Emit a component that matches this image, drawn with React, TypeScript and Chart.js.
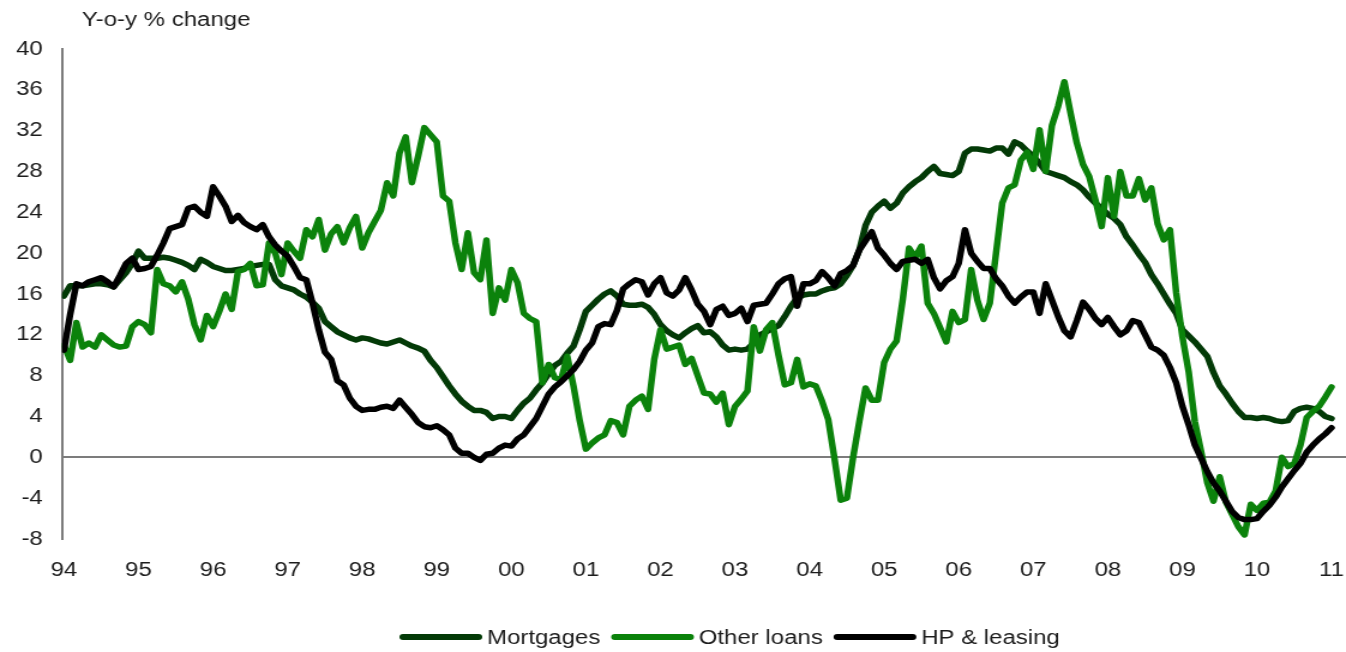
import { useEffect, useRef } from 'react';
import { Chart, registerables } from 'chart.js';

Chart.register(...registerables);

// ---- data (monthly, Jan 1994 .. Jan 2011) ----
const yearLabels = ['94', '95', '96', '97', '98', '99', '00', '01', '02', '03', '04', '05', '06', '07', '08', '09', '10', '11'];
const yTickMin = -8;
const yTickMax = 40;
const yTickStep = 4;

const mortgages = [
  15.8, 16.8, 16.8, 16.8, 16.9, 17.0, 17.0, 16.9, 16.7, 17.4,
  18.1, 19.0, 20.2, 19.5, 19.5, 19.5, 19.6, 19.5, 19.3, 19.1,
  18.8, 18.4, 19.4, 19.1, 18.7, 18.5, 18.3, 18.3, 18.4, 18.5,
  18.7, 18.8, 18.9, 18.9, 17.4, 16.8, 16.6, 16.4, 16.0, 15.7,
  15.2, 14.6, 13.3, 12.8, 12.3, 12.0, 11.7, 11.5, 11.7, 11.6,
  11.4, 11.2, 11.1, 11.3, 11.5, 11.2, 10.9, 10.7, 10.4, 9.5,
  8.8, 7.9, 7.0, 6.2, 5.5, 5.0, 4.6, 4.6, 4.4, 3.8,
  4.0, 4.0, 3.8, 4.6, 5.3, 5.8, 6.6, 7.3, 8.2, 9.0,
  9.4, 10.2, 10.9, 12.5, 14.3, 14.9, 15.5, 16.0, 16.3, 15.8,
  15.0, 14.9, 14.9, 15.0, 14.7, 14.0, 13.0, 12.4, 12.0, 11.7,
  12.2, 12.6, 12.9, 12.2, 12.3, 11.8, 11.0, 10.5, 10.6, 10.5,
  10.6, 11.2, 12.0, 12.3, 12.6, 12.9, 13.8, 14.8, 15.6, 15.9,
  16.0, 16.0, 16.3, 16.5, 16.6, 17.0, 17.8, 18.8, 20.3, 22.7,
  24.0, 24.6, 25.1, 24.4, 24.9, 25.9, 26.5, 27.0, 27.4, 28.0,
  28.5, 27.8, 27.7, 27.6, 28.0, 29.8, 30.2, 30.2, 30.1, 30.0,
  30.3, 30.3, 29.7, 30.9, 30.6, 30.0, 29.5, 28.8, 28.0, 27.8,
  27.6, 27.4, 27.0, 26.7, 26.2, 25.5, 24.9, 24.4, 23.8, 23.4,
  22.8, 21.6, 20.8, 19.9, 19.1, 17.9, 17.0, 16.0, 15.0, 14.1,
  12.5, 11.9, 11.3, 10.6, 9.9, 8.3, 7.0, 6.2, 5.3, 4.5,
  3.9, 3.9, 3.8, 3.9, 3.8, 3.6, 3.5, 3.6, 4.5, 4.8,
  4.9, 4.8, 4.5, 4.0, 3.8,
];

const otherLoans = [
  11.0, 9.5, 13.2, 10.8, 11.2, 10.8, 12.0, 11.5, 11.0, 10.8,
  10.9, 12.8, 13.3, 13.0, 12.2, 18.4, 17.0, 16.8, 16.2, 17.2,
  15.5, 13.0, 11.5, 13.9, 12.8, 14.3, 16.0, 14.5, 18.2, 18.4,
  19.0, 16.8, 16.9, 21.0, 20.0, 17.9, 21.0, 20.2, 19.5, 22.3,
  21.6, 23.3, 20.3, 21.9, 22.6, 21.0, 22.5, 23.6, 20.5, 22.0,
  23.1, 24.2, 26.9, 25.6, 29.8, 31.4, 26.9, 29.5, 32.3, 31.6,
  30.9, 25.6, 25.1, 21.0, 18.4, 22.0, 18.1, 17.4, 21.3, 14.1,
  16.6, 15.4, 18.4, 17.1, 14.1, 13.6, 13.3, 7.3, 9.1, 7.8,
  7.6, 9.9, 7.0, 3.6, 0.8, 1.4, 1.9, 2.2, 3.6, 3.4,
  2.2, 5.0, 5.6, 6.0, 4.7, 9.6, 12.5, 10.6, 10.8, 11.0,
  9.1, 9.7, 8.0, 6.3, 6.2, 5.4, 6.3, 3.2, 5.0, 5.7,
  6.5, 12.8, 10.4, 12.5, 13.2, 10.0, 7.1, 7.3, 9.6, 6.9,
  7.2, 7.0, 5.5, 3.7, -0.1, -4.2, -4.0, 0.0, 3.5, 6.8,
  5.6, 5.6, 9.3, 10.6, 11.4, 15.5, 20.5, 19.6, 20.7, 15.1,
  14.1, 12.7, 11.3, 14.3, 13.2, 13.5, 18.4, 15.4, 13.5, 15.1,
  20.0, 24.9, 26.4, 26.7, 29.1, 29.9, 28.2, 32.1, 28.0, 32.5,
  34.4, 36.8, 33.7, 30.8, 28.7, 27.5, 25.2, 22.6, 27.4, 23.6,
  28.0, 25.6, 25.6, 27.3, 25.2, 26.4, 22.9, 21.3, 22.3, 16.1,
  11.8, 8.4, 3.5, 0.6, -2.5, -4.3, -1.9, -4.4, -5.6, -6.8,
  -7.6, -4.6, -5.2, -4.5, -4.4, -3.3, 0.0, -0.9, -0.6, 1.2,
  3.9, 4.5, 5.0, 5.9, 6.9,
];

const hpLeasing = [
  10.5, 14.0, 17.0, 16.8, 17.2, 17.4, 17.6, 17.2, 16.7, 17.8,
  19.0, 19.5, 18.4, 18.5, 18.7, 19.8, 21.0, 22.4, 22.6, 22.8,
  24.4, 24.6, 24.0, 23.6, 26.5, 25.6, 24.6, 23.1, 23.7, 23.0,
  22.6, 22.3, 22.8, 21.6, 20.8, 20.2, 19.7, 18.7, 17.6, 17.4,
  15.1, 12.5, 10.3, 9.6, 7.5, 7.1, 5.8, 5.0, 4.6, 4.7,
  4.7, 4.9, 5.0, 4.8, 5.6, 4.9, 4.2, 3.4, 3.0, 2.9,
  3.1, 2.7, 2.2, 0.9, 0.4, 0.4, 0.0, -0.3, 0.3, 0.4,
  0.9, 1.2, 1.1, 1.8, 2.2, 3.0, 3.8, 5.0, 6.2, 6.9,
  7.4, 8.0, 8.6, 9.4, 10.5, 11.2, 12.8, 13.1, 13.0, 14.4,
  16.5, 17.0, 17.4, 17.2, 15.9, 17.0, 17.6, 16.1, 15.8, 16.4,
  17.6, 16.4, 15.0, 14.3, 13.0, 14.5, 14.8, 13.9, 14.1, 14.6,
  13.3, 14.9, 15.0, 15.1, 16.0, 17.0, 17.5, 17.7, 14.8, 17.0,
  17.0, 17.3, 18.2, 17.6, 16.8, 18.0, 18.3, 18.8, 20.3, 21.2,
  22.1, 20.5, 19.8, 19.0, 18.4, 19.2, 19.3, 19.4, 19.0, 19.4,
  17.6, 16.5, 17.3, 17.7, 19.0, 22.3, 20.0, 19.2, 18.5, 18.5,
  17.5, 16.8, 15.8, 15.1, 15.7, 16.2, 16.2, 14.1, 17.0, 15.4,
  13.8, 12.4, 11.8, 13.4, 15.2, 14.5, 13.6, 13.0, 13.7, 12.8,
  12.0, 12.4, 13.4, 13.2, 12.0, 10.8, 10.5, 10.0, 8.8, 7.3,
  5.0, 3.2, 1.2, -0.1, -1.4, -2.5, -3.3, -4.3, -5.3, -5.9,
  -6.1, -6.1, -6.0, -5.3, -4.7, -3.9, -2.9, -2.1, -1.3, -0.6,
  0.5, 1.2, 1.8, 2.3, 2.9,
];

const seriesNames = ['Mortgages', 'Other loans', 'HP & leasing'];
const seriesColors = ['#033a07', '#0b820b', '#000000'];
const titleText = 'Y-o-y % change';

// ---- layout constants (internal canvas px; canvas is stretched horizontally) ----
const INTERNAL_W = 1122;
const H = 652;
const FONT = '"Liberation Sans", Arial, Helvetica, sans-serif';
const TEXT_COLOR = '#1c1c1c';
const AXIS_COLOR = '#7c7c7c';

const titlePlugin = {
  id: 'yoyTitle',
  afterDraw(chart: any) {
    const ctx = chart.ctx;
    ctx.save();
    ctx.font = `20px ${FONT}`;
    ctx.fillStyle = TEXT_COLOR;
    ctx.textAlign = 'left';
    ctx.textBaseline = 'alphabetic';
    ctx.fillText(titleText, 68.3, 26);
    ctx.restore();
  },
};

const lineLegendPlugin = {
  id: 'lineLegend',
  afterDraw(chart: any) {
    const ctx = chart.ctx;
    ctx.save();
    ctx.font = `20px ${FONT}`;
    ctx.textAlign = 'left';
    ctx.textBaseline = 'middle';
    let x = 333;
    const y = 637;
    chart.data.datasets.forEach((ds: any) => {
      ctx.strokeStyle = ds.borderColor;
      ctx.lineWidth = 6;
      ctx.lineCap = 'round';
      ctx.beginPath();
      ctx.moveTo(x + 3, y);
      ctx.lineTo(x + 66, y);
      ctx.stroke();
      ctx.fillStyle = TEXT_COLOR;
      ctx.fillText(ds.label, x + 73, y + 1);
      x += 73 + ctx.measureText(ds.label).width + 9;
    });
    ctx.restore();
  },
};

export default function App() {
  const canvasRef = useRef<HTMLCanvasElement | null>(null);

  useEffect(() => {
    if (!canvasRef.current) return;
    const series = [mortgages, otherLoans, hpLeasing];
    const drawOrder = [2, 1, 0];
    const chart = new Chart(canvasRef.current, {
      type: 'line',
      data: {
        datasets: series.map((vals, si) => ({
          label: seriesNames[si],
          data: vals.map((v, i) => ({ x: i, y: v })),
          borderColor: seriesColors[si],
          backgroundColor: seriesColors[si],
          borderWidth: 5.5,
          pointRadius: 0,
          pointHoverRadius: 0,
          tension: 0,
          borderJoinStyle: 'round',
          borderCapStyle: 'round',
          fill: false,
          order: drawOrder[si],
        })),
      },
      options: {
        animation: false,
        responsive: false,
        devicePixelRatio: 1,
        events: [],
        layout: { padding: { top: 49, bottom: 60, left: 0, right: 0 } },
        plugins: {
          legend: { display: false },
          title: { display: false },
          tooltip: { enabled: false },
        },
        scales: {
          x: {
            type: 'linear',
            min: -0.315,
            max: 206.32,
            afterBuildTicks: (axis: any) => {
              axis.ticks = yearLabels.map((_, i) => ({ value: i * 12 }));
            },
            afterFit: (axis: any) => {
              axis.height = 53;
            },
            ticks: {
              autoSkip: false,
              maxRotation: 0,
              minRotation: 0,
              padding: 0,
              color: TEXT_COLOR,
              font: { family: FONT, size: 20 },
              callback: (_v: any, idx: number) => yearLabels[idx],
            },
            grid: {
              display: true,
              drawOnChartArea: false,
              drawTicks: true,
              tickLength: 19,
              color: 'rgba(0,0,0,0)',
              tickColor: 'rgba(0,0,0,0)',
            },
            border: { display: false },
          },
          y: {
            type: 'linear',
            min: yTickMin,
            max: yTickMax,
            afterFit: (axis: any) => {
              axis.width = 51.7;
            },
            ticks: {
              stepSize: yTickStep,
              padding: 16,
              color: TEXT_COLOR,
              font: { family: FONT, size: 20 },
            },
            grid: {
              display: true,
              drawTicks: false,
              color: (ctx: any) => (ctx.tick && ctx.tick.value === 0 ? AXIS_COLOR : 'rgba(0,0,0,0)'),
              lineWidth: 2,
            },
            border: { display: true, color: AXIS_COLOR, width: 2 },
          },
        },
      },
      plugins: [titlePlugin, lineLegendPlugin],
    } as any);
    return () => chart.destroy();
  }, []);

  return (
    <canvas
      ref={canvasRef}
      width={INTERNAL_W}
      height={H}
      style={{ position: 'fixed', left: 0, top: 0, width: '1346px', height: `${H}px`, background: '#ffffff' }}
    />
  );
}
